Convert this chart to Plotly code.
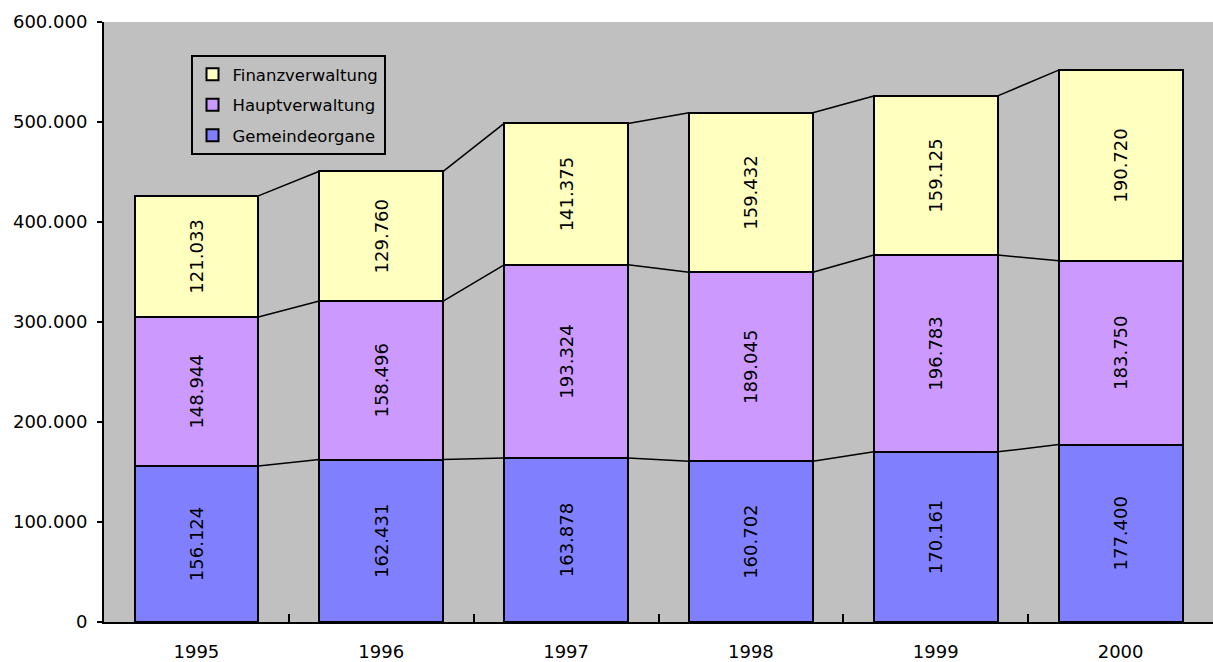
import plotly.graph_objects as go

years = ["1995", "1996", "1997", "1998", "1999", "2000"]
gemeindeorgane = [156124, 162431, 163878, 160702, 170161, 177400]
hauptverwaltung = [148944, 158496, 193324, 189045, 196783, 183750]
finanzverwaltung = [121033, 129760, 141375, 159432, 159125, 190720]

series = [
    ("Gemeindeorgane", gemeindeorgane, "#8080FF", 3),
    ("Hauptverwaltung", hauptverwaltung, "#CC99FF", 2),
    ("Finanzverwaltung", finanzverwaltung, "#FFFFC0", 1),
]

font_family = "DejaVu Sans"
bar_w = 0.67
xs = list(range(len(years)))

fig = go.Figure()
for name, vals, color, rank in series:
    fig.add_trace(go.Bar(
        x=xs, y=vals, name=name, width=bar_w, legendgroup=name, legendrank=rank,
        marker=dict(color=color, line=dict(color="black", width=2)),
        texttemplate="%{y:,.0f}", textposition="inside", textangle=-90,
        insidetextanchor="middle",
        textfont=dict(family=font_family, size=18, color="black"),
        cliponaxis=False,
    ))

# series lines connecting stacked tops
cum = [0] * len(years)
for name, vals, color, rank in series:
    cum = [c + v for c, v in zip(cum, vals)]
    lx, ly = [], []
    for i in range(len(years) - 1):
        lx += [xs[i] + bar_w / 2, xs[i + 1] - bar_w / 2, None]
        ly += [cum[i], cum[i + 1], None]
    fig.add_trace(go.Scatter(x=lx, y=ly, mode="lines", showlegend=False,
                             line=dict(color="black", width=1.5), hoverinfo="skip"))

# invisible trace for boundary ticks axis
fig.add_trace(go.Scatter(x=[-0.5, 5.5], y=[0, 0], xaxis="x2", mode="markers",
                         marker=dict(opacity=0), showlegend=False, hoverinfo="skip"))

fig.update_layout(
    barmode="stack",
    width=1213, height=662,
    margin=dict(l=104, r=0, t=22, b=40),
    paper_bgcolor="white",
    plot_bgcolor="#C0C0C0",
    separators=",.",
    font=dict(family=font_family, size=18, color="black"),
    xaxis=dict(
        range=[-0.5, 5.5], tickvals=xs, ticktext=years, ticks="",
        showgrid=False, zeroline=False, showline=True, linecolor="black", linewidth=2,
        tickfont=dict(family=font_family, size=18), automargin=False,
        ticklabelstandoff=12,
    ),
    xaxis2=dict(
        range=[-0.5, 5.5], overlaying="x", side="bottom",
        tickvals=[0.5, 1.5, 2.5, 3.5, 4.5, 5.5], ticktext=[""] * 6,
        ticks="inside", ticklen=8, tickwidth=2, tickcolor="black",
        showgrid=False, zeroline=False, showline=False, automargin=False,
    ),
    yaxis=dict(
        range=[0, 600000], tickvals=[0, 100000, 200000, 300000, 400000, 500000, 600000],
        tickformat=",.0f", ticks="outside", ticklen=5, tickwidth=2, tickcolor="black",
        showgrid=False, zeroline=False, showline=True, linecolor="black", linewidth=2,
        tickfont=dict(family=font_family, size=18), automargin=False,
        ticklabelstandoff=6,
    ),
    legend=dict(
        x=0.078, y=0.945, xanchor="left", yanchor="top",
        bgcolor="#C0C0C0", bordercolor="black", borderwidth=2,
        traceorder="grouped",
        font=dict(family=font_family, size=16.5),
        itemwidth=30, tracegroupgap=6,
    ),
    showlegend=True,
)

fig.write_html(
    "out.html",
    config={"displayModeBar": False},
    post_script="document.body.style.margin='0';document.body.style.overflow='hidden';",
)
